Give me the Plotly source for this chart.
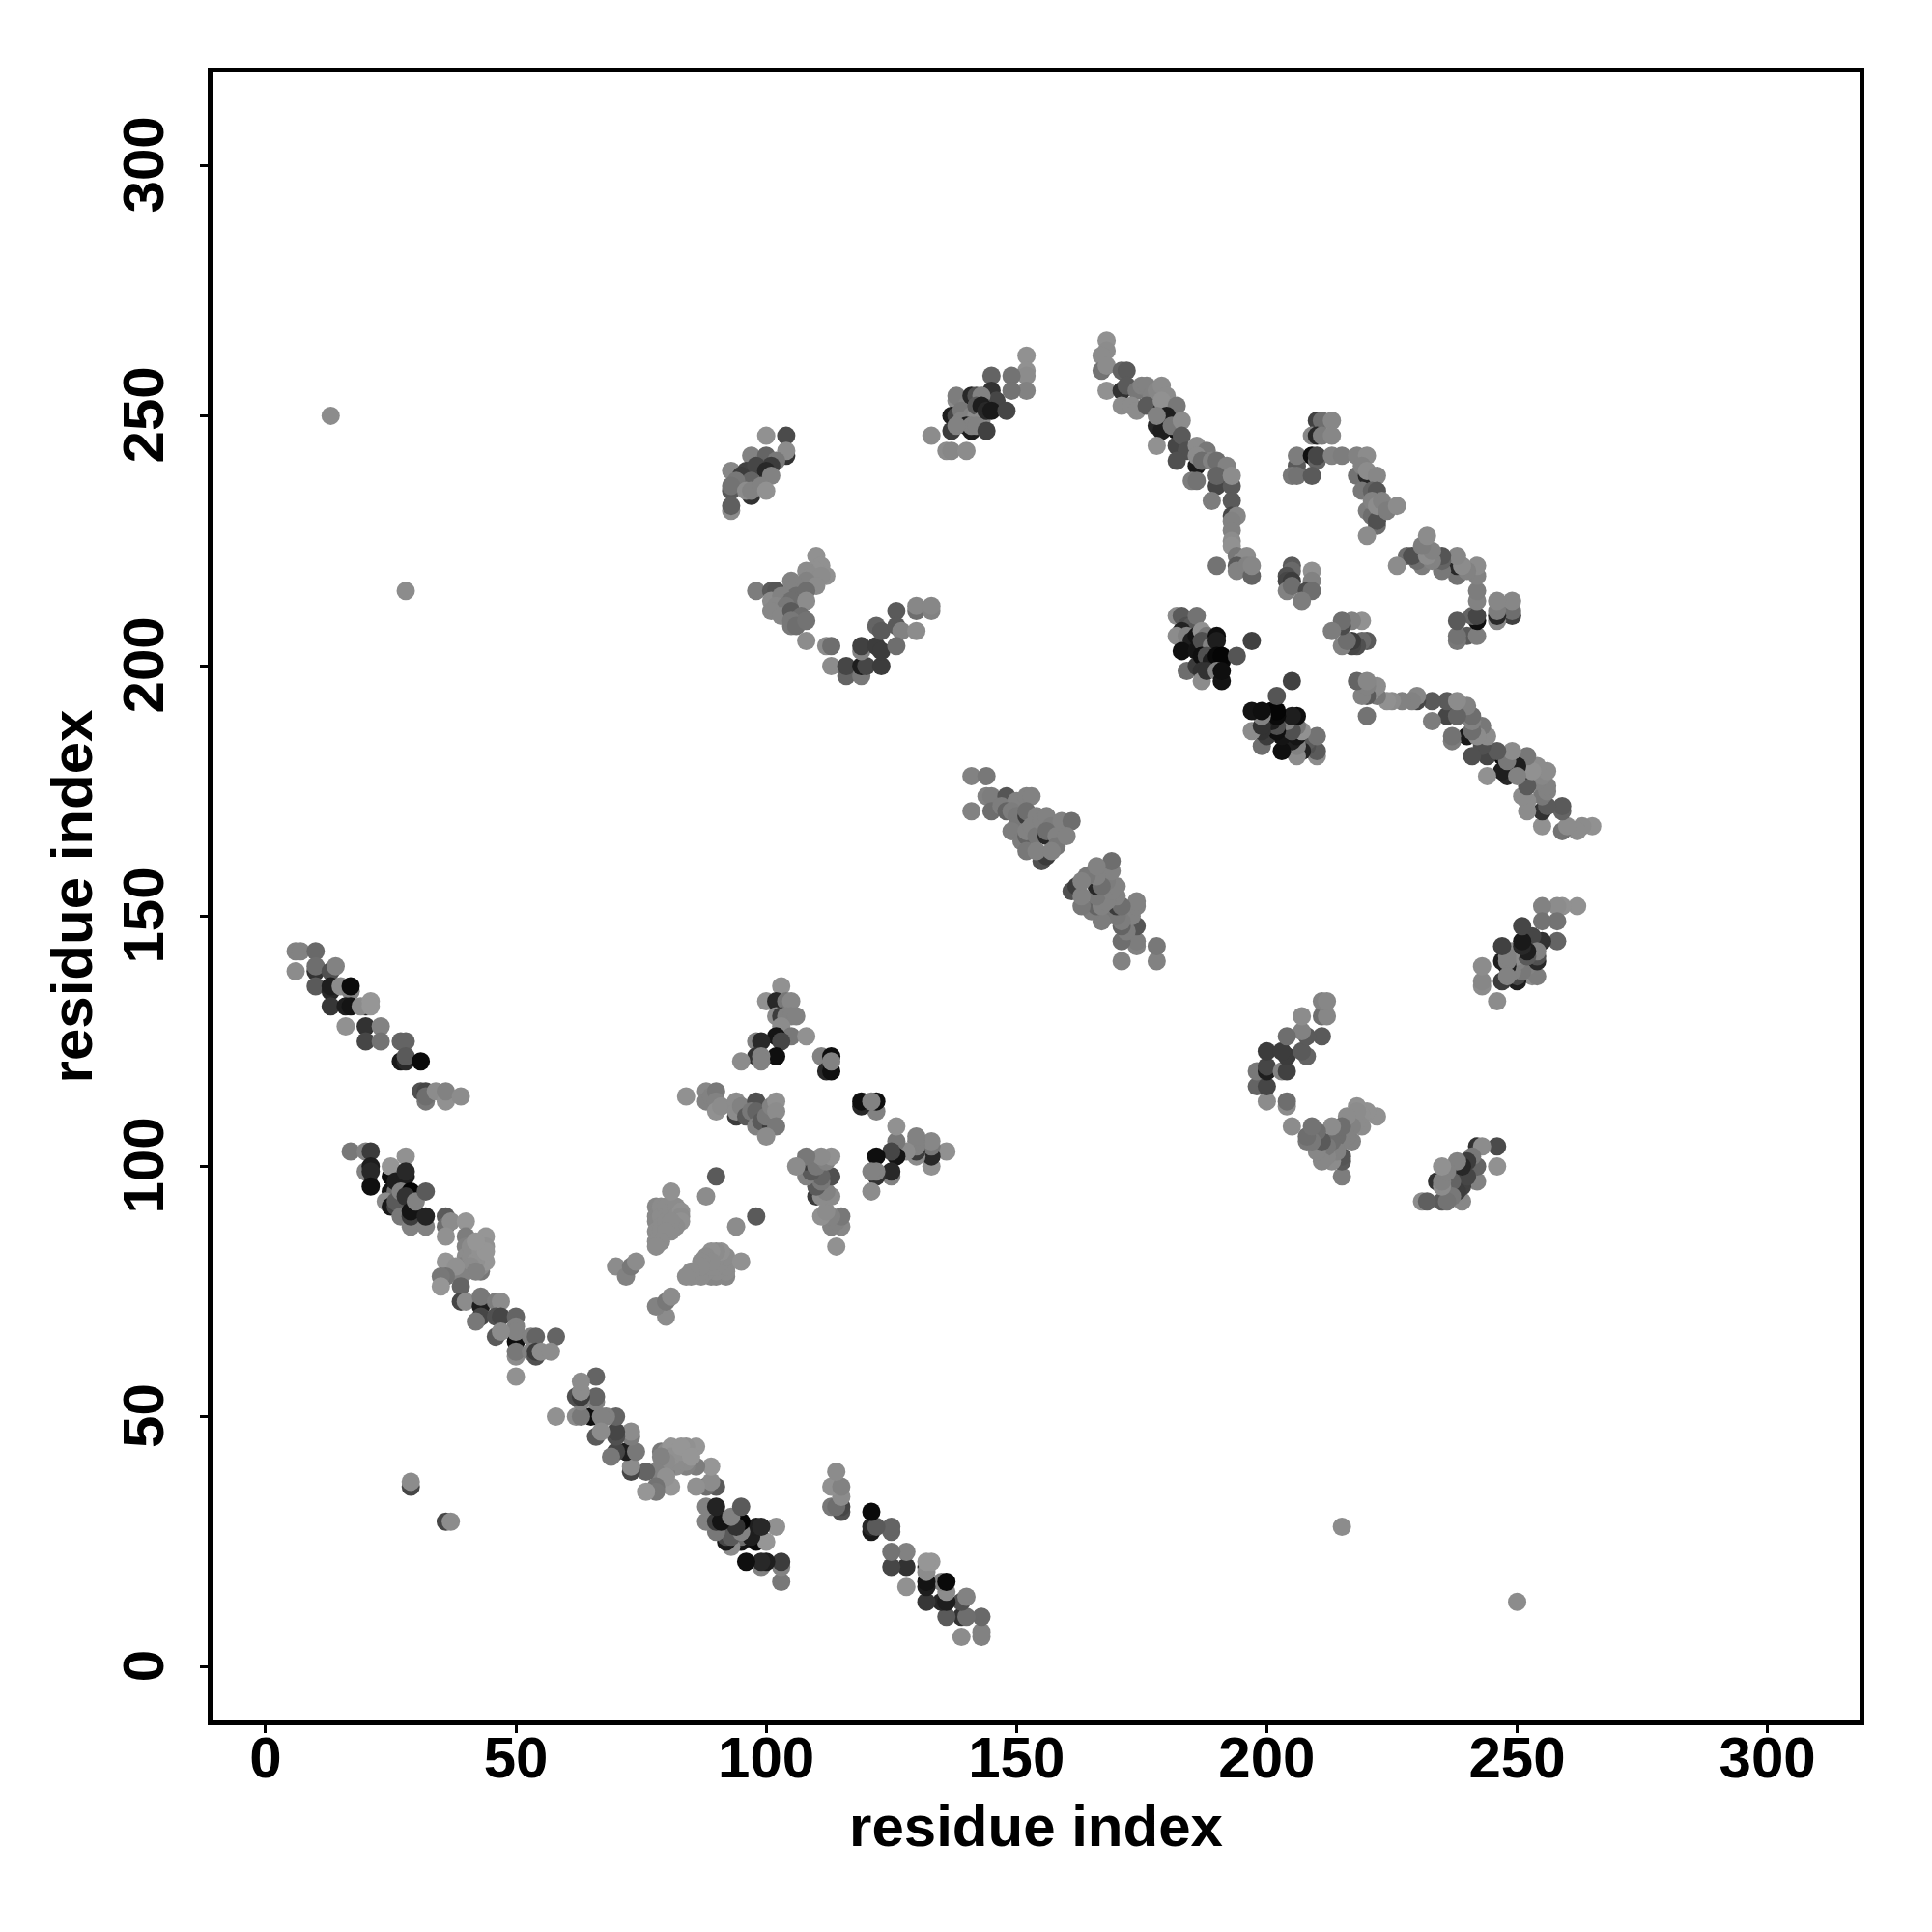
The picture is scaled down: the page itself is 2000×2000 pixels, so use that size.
import plotly.graph_objects as go

strand_a = [(6,143,130),(7,143,130),(10,143,105),(6,139,140),(10,139,50),(10,140,110),(13,139,80),(14,140,130),(10,136,90),(13,135,40),(13,136,30),(15,136,140),(17,135,130),(17,136,10),(13,132,55),(16,132,30),(17,132,20),(20,132,40),(19,132,140),(21,133,150),(21,132,150),(16,128,145),(20,128,50),(23,128,130),(20,125,70),(23,125,115),(27,125,100),(28,125,100),(27,121,25),(28,121,40),(28,122,90),(31,121,10),(31,115,80),(32,115,70),(32,113,120),(32,114,110),(34,115,140),(36,113,145),(36,115,130),(39,114,140)]
strand_b = [(17,103,120),(20,103,130),(21,103,60),(20,99,130),(21,100,30),(21,99,40),(21,96,15),(25,98,10),(25,100,150),(25,95,20),(26,95,110),(24,93,140),(25,92,25),(26,92,70),(26,97,30),(27,93,30),(26,93,90),(28,102,145),(28,98,30),(28,99,40),(27,95,130),(29,95,5),(27,90,120),(29,88,130),(28,94,50),(29,90,60),(29,91,20),(30,93,130),(32,95,90),(32,88,130),(32,90,35),(36,90,90),(36,88,110),(37,89,140),(36,86,145),(40,89,150),(40,86,125),(40,84,130),(44,86,150),(44,84,145),(40,82,140),(40,79,140),(36,81,150),(43,79,120),(43,80,140),(44,81,150),(39,80,130),(41,84,140),(41,82,140),(42,81,145),(43,83,145),(44,83,150),(41,80,140),(42,79,130),(39,78,130),(38,80,145),(42,85,150),(36,78,115),(35,78,120),(35,76,150),(39,76,100),(39,73,70),(40,73,140),(43,72,30),(43,74,120),(43,70,70),(42,69,120),(46,73,125),(47,73,140),(46,70,80),(47,70,70),(50,70,100),(50,65,15),(50,68,130),(50,67,130),(46,66,90),(47,67,140),(53,66,130),(54,66,100),(58,66,100),(50,62,140),(50,63,120),(53,63,130),(54,62,80),(54,63,60),(55,63,140),(57,63,140),(50,58,145)]
isolated = [(29,36,70),(29,37,140),(13,250,140),(28,215,140)]
centre_top = [(103,136,145),(100,133,145),(102,133,40),(104,133,120),(105,133,135),(102,130,140),(103,130,60),(104,130,130),(105,130,130),(106,130,130),(103,128,140),(105,126,120),(108,126,145),(102,126,20),(103,125,70),(98,125,130),(99,125,40),(98,122,50),(102,122,15),(99,122,130),(95,121,140),(99,121,130),(111,122,130),(113,122,15),(112,119,40),(113,119,15),(113,121,130)]
centre_mid = [(84,114,145),(88,115,135),(88,113,130),(89,114,130),(90,115,120),(90,113,130),(90,111,145),(91,112,140),(94,110,60),(94,113,140),(94,111,140),(95,112,130),(96,110,90),(98,113,80),(97,111,120),(98,111,100),(98,108,130),(99,109,90),(101,108,60),(100,110,120),(101,112,130),(102,113,145),(102,111,140),(102,108,120),(100,106,140)]
centre_low = [(78,92,135),(78,90,135),(78,89,135),(78,87,140),(78,85,140),(79,92,140),(79,90,140),(79,88,140),(79,87,140),(80,92,140),(80,90,140),(80,89,140),(81,91,140),(82,92,140),(82,90,140),(83,91,145),(83,90,140),(83,89,145),(82,88,140),(81,89,140),(81,87,140),(80,87,140),(79,85,140),(78,84,140),(81,95,145),(88,94,140),(90,98,90),(70,80,140),(72,78,130),(73,80,120),(74,81,140)]
pair_f = [(100,246,145),(104,246,75),(104,242,50),(104,243,140),(97,242,130),(100,241,60),(100,242,100),(102,241,120),(101,240,60),(93,239,135),(96,239,65),(97,239,65),(98,240,70),(95,238,60),(100,239,40),(101,238,130),(97,237,100),(94,237,120),(93,235,90),(93,236,115),(97,234,50),(96,235,140),(97,235,130),(99,236,130),(100,235,145),(93,231,140),(93,232,95)]
pair_h = [(110,222,145),(111,220,145),(110,219,145),(108,219,140),(109,218,140),(112,218,145),(111,218,140),(105,217,130),(108,217,130),(106,216,130),(110,216,140),(98,215,125),(101,215,90),(102,215,85),(105,215,130),(106,214,110),(108,215,110),(101,213,140),(103,214,130),(105,213,110),(108,213,140),(102,212,135),(104,212,120),(101,211,135),(103,210,135),(105,211,90),(107,210,110),(105,208,120),(105,209,120),(106,208,110),(108,209,115),(108,205,140),(112,204,140),(113,204,110),(113,200,140),(116,198,100),(116,200,70),(119,198,120),(119,200,30),(120,200,70),(123,200,60),(119,203,130),(119,204,65),(122,204,60),(123,203,60),(122,208,100),(123,207,90),(126,211,90),(126,208,90),(127,207,130),(130,207,140),(126,204,110),(130,211,110),(130,212,135),(133,211,130),(133,212,135)]
pair_g = [(152,262,145),(152,259,145),(152,258,140),(152,255,130),(149,258,115),(145,258,100),(149,255,115),(145,255,50),(146,253,70),(138,253,140),(138,254,125),(140,252,130),(141,254,40),(142,254,80),(143,254,130),(137,250,30),(138,250,70),(140,250,15),(139,251,120),(139,249,130),(141,250,130),(142,250,140),(142,252,90),(143,252,30),(143,249,140),(144,251,40),(145,251,25),(148,251,70),(137,247,60),(140,248,30),(141,247,30),(141,248,130),(142,248,130),(138,248,130),(144,247,65),(133,246,140),(136,243,140),(137,243,135),(140,243,140)]
blade_i = [(141,178,130),(144,178,120),(141,171,130),(144,174,130),(145,174,125),(145,171,110),(148,174,85),(147,172,125),(150,173,130),(152,174,130),(153,174,130),(148,171,100),(149,171,125),(150,170,120),(150,168,120),(152,170,60),(152,171,110),(154,170,130),(149,167,125),(151,165,125),(152,166,100),(152,167,130),(153,168,130),(154,166,120),(155,169,130),(156,170,130),(157,168,125),(159,169,130),(161,169,110),(156,166,40),(156,167,110),(158,166,130),(158,164,120),(160,166,130),(152,163,120),(155,161,80),(156,162,60),(154,163,130),(157,163,130)]
strand_j = [(168,265,145),(168,263,140),(167,262,140),(167,259,115),(168,260,140),(168,255,145),(171,259,100),(172,259,90),(171,255,50),(172,256,90),(174,255,120),(175,256,130),(176,256,130),(177,254,130),(178,255,135),(179,256,140),(180,254,140),(171,252,140),(173,252,140),(174,251,140),(176,252,90),(179,251,20),(179,253,145),(182,252,120),(178,248,40),(179,247,30),(180,250,30),(178,250,130),(182,247,15),(181,248,120),(183,249,140),(178,244,145),(182,244,70),(183,246,90),(184,243,80),(182,241,80),(186,240,25),(186,244,140),(188,243,120),(186,242,140),(187,241,110),(189,241,130),(190,241,110),(192,240,130),(185,237,125),(186,237,115),(190,236,70),(190,238,100),(193,236,90),(193,238,140),(189,233,125),(193,233,90),(193,230,70),(194,230,135),(193,229,130),(193,227,130),(193,225,140),(193,224,145),(194,222,120),(195,221,140),(196,222,140),(190,220,115),(194,220,90),(194,219,130),(196,220,130),(197,218,100),(197,220,135)]
pair_k = [(205,220,90),(205,219,105),(204,218,80),(204,217,70),(205,217,60),(204,215,130),(205,216,110),(209,219,145),(209,217,130),(208,215,75),(209,215,110),(207,213,125)]
pair_l = [(210,249,65),(211,249,110),(213,249,135),(209,246,135),(210,246,40),(211,246,125),(213,246,135),(206,240,90),(206,242,125),(209,242,15),(210,241,100),(210,242,70),(205,238,120),(206,238,115),(209,238,90),(213,242,130),(215,242,125),(218,242,130),(220,242,140),(218,238,115),(219,240,130),(220,238,40),(220,239,140),(222,238,135),(219,235,120),(221,235,100),(222,235,85),(220,231,125),(222,228,110),(221,230,110),(222,229,80),(221,233,130),(222,232,140),(223,233,130),(224,231,125),(226,232,140),(220,226,140)]
pair_m = [(182,210,140),(183,210,90),(184,208,80),(185,208,90),(186,210,115),(183,207,35),(182,206,140),(184,206,130),(185,205,30),(183,203,15),(186,203,20),(184,199,110),(186,200,60),(186,206,20),(187,207,145),(188,206,120),(187,205,80),(189,204,130),(190,206,15),(190,205,30),(187,202,15),(188,202,80),(189,201,30),(190,202,10),(191,201,10),(191,202,5),(194,202,85),(197,205,65),(187,199,50),(187,197,140),(188,199,50),(190,199,130),(191,197,20),(191,199,15)]

contacts = strand_a + strand_b + isolated + centre_top + centre_mid + centre_low + pair_f + pair_h + pair_g + blade_i + strand_j + pair_k + pair_l + pair_m
# The contact map is symmetric: each contact appears at (i, j) and at (j, i).
res_x = [c[0] for c in contacts] + [c[1] for c in contacts]
res_y = [c[1] for c in contacts] + [c[0] for c in contacts]
shade = [c[2] for c in contacts] * 2

tick_vals = [0, 50, 100, 150, 200, 250, 300]
axis_label = "residue index"
FONT = "Liberation Sans"

fig = go.Figure(go.Scatter(
    x=res_x, y=res_y, mode="markers",
    marker=dict(size=19, color=shade, cmin=0, cmax=255,
                colorscale=[[0, "#000000"], [1, "#ffffff"]], showscale=False, line_width=0),
    hoverinfo="skip"))

axis = dict(
    tickmode="array", tickvals=tick_vals, ticks="outside", ticklen=8,
    tickwidth=3, tickcolor="black", showline=True, linecolor="black", linewidth=5, mirror=True,
    showgrid=False, zeroline=False, tickfont=dict(family=FONT, size=60, color="black", weight="bold"),
    title=dict(text=axis_label, font=dict(family=FONT, size=60, color="black", weight="bold")),
)
fig.update_layout(
    width=2000, height=2000, paper_bgcolor="white", plot_bgcolor="white", showlegend=False,
    margin=dict(l=212, r=83, t=67, b=227, autoexpand=False),
    xaxis=dict(axis, range=[-10.6, 318.4], title_standoff=18, ticklabelstandoff=-26),
    yaxis=dict(axis, range=[-10.7, 318.6], tickangle=-90, title_standoff=2, ticklabelstandoff=14, ticklabelshift=8),
)
fig.write_html("out.html")
